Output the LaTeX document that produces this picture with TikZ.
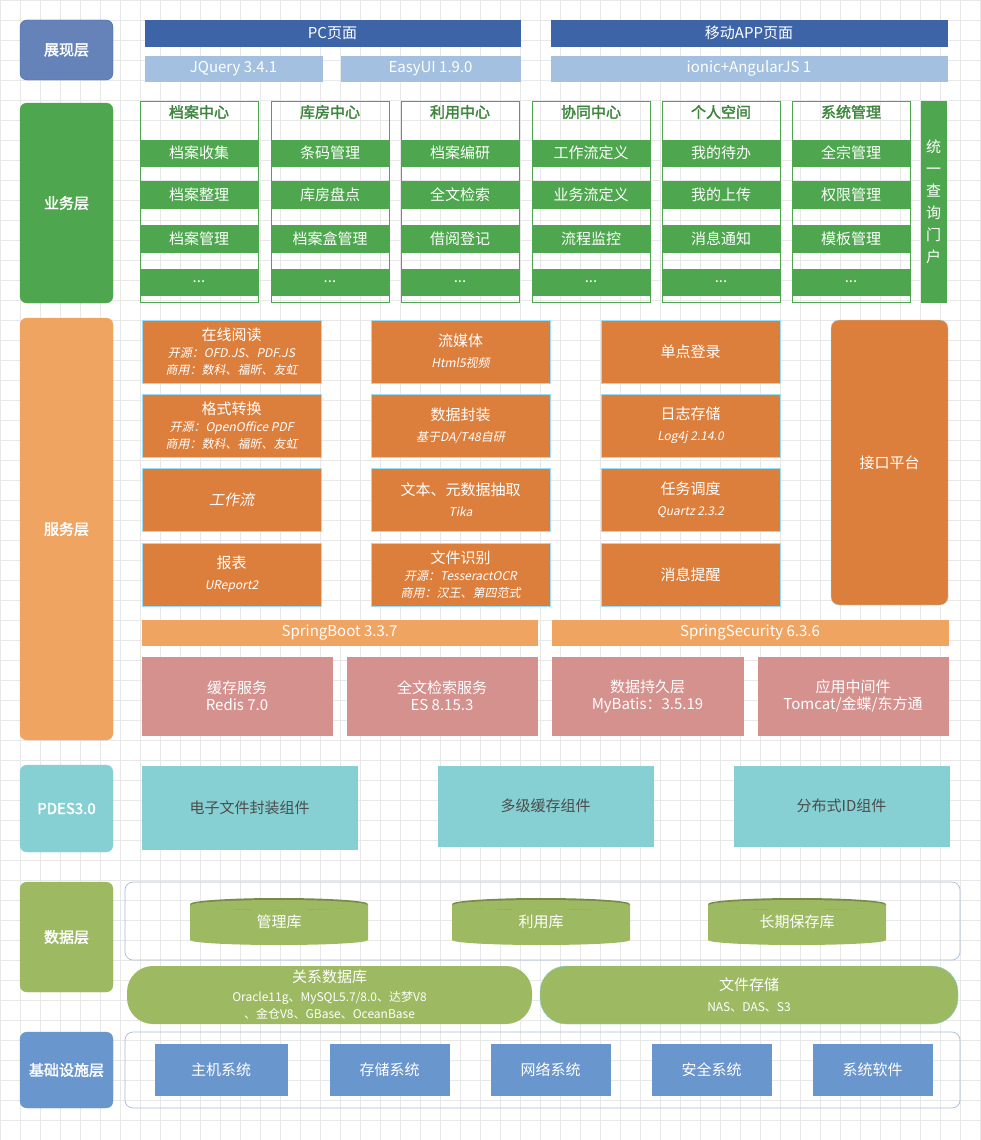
\documentclass[tikz,border=0pt]{standalone}
\usepackage{fontspec}
\setmainfont{Noto Sans CJK SC}[AutoFakeSlant=0.2,AutoFakeBold=2]
\begin{document}
\begin{tikzpicture}[x=1pt,y=-1pt,
  base/.style={inner sep=0pt,outer sep=0pt,align=center,text=white,font=\fontsize{15}{17}\selectfont},
  layer/.style={base,rounded corners=7,font=\fontsize{15}{17}\selectfont\bfseries},
  pc/.style={base,fill=blue1,draw=blue1},
  lib/.style={base,fill=blue2,draw=blue2},
  col/.style={base,draw=green1,line width=0.8pt},
  biz/.style={base,fill=green1,draw=green1},
  svc/.style={base,fill=orange1,draw=cyan!40},
  bar/.style={base,fill=orange2,draw=orange2},
  mid/.style={base,fill=pink1,draw=pink1},
  pd/.style={base,fill=teal1,draw=teal1,text=black!70},
  infra/.style={base,fill=blue3,draw=blue3},
  brk/.style={draw=blue4,line width=0.7pt,rounded corners=8}]
\definecolor{blue1}{HTML}{3E64A8}\definecolor{blue2}{HTML}{A3C0E0}
\definecolor{green1}{HTML}{4EA64E}\definecolor{orange1}{HTML}{DD7F3C}
\definecolor{orange2}{HTML}{EFA462}\definecolor{pink1}{HTML}{D4918E}
\definecolor{teal1}{HTML}{86D0D4}\definecolor{blue3}{HTML}{6A96CE}
\definecolor{blue4}{HTML}{A8BCDC}\definecolor{lgreen}{HTML}{9DBA62}
\newcommand\bx[7]{\node[#6,minimum width={(#4-#2)*1pt},minimum height={(#5-#3)*1pt}] (#1) at ({(#2+#4)/2},{(#3+#5)/2}) {#7};}
\newcommand\sm{\fontsize{12}{17}\selectfont\itshape}
\useasboundingbox (0,0) rectangle (981,1140);
\fill[white] (0,0) rectangle (981,1140);
\foreach \k in {0,20,...,980} {\draw[black!9] (\k,0) -- (\k,1140);}
\foreach \k in {0,20,...,1140} {\draw[black!9] (0,\k) -- (981,\k);}
% layer labels
\bx{L1}{20}{20}{113}{80}{layer,fill=blue1!80,draw=blue1}{展现层}
\bx{L2}{20}{103}{113}{303}{layer,fill=green1,draw=green1}{业务层}
\bx{L3}{20}{318}{113}{740}{layer,fill=orange2,draw=orange2}{服务层}
\bx{L4}{20}{765}{113}{852}{layer,fill=teal1,draw=teal1}{PDES3.0}
\bx{L5}{20}{882}{113}{992}{layer,fill=lgreen,draw=lgreen}{数据层}
\bx{L6}{20}{1032}{113}{1108}{layer,fill=blue3,draw=blue3}{基础设施层}
% presentation
\bx{pc}{145}{20}{520}{46}{pc}{PC页面}
\bx{app}{551}{20}{947}{46}{pc}{移动APP页面}
\bx{jq}{145}{56}{322}{81}{lib}{JQuery 3.4.1}
\bx{eu}{341}{56}{520}{81}{lib}{EasyUI 1.9.0}
\bx{io}{551}{56}{947}{81}{lib}{ionic+AngularJS 1}
% business
\foreach \i/\x/\t/\a/\b/\c in {1/140/档案中心/档案收集/档案整理/档案管理,2/271/库房中心/条码管理/库房盘点/档案盒管理,3/401/利用中心/档案编研/全文检索/借阅登记,4/532/协同中心/工作流定义/业务流定义/流程监控,5/662/个人空间/我的待办/我的上传/消息通知,6/792/系统管理/全宗管理/权限管理/模板管理}{
  \bx{c\i}{\x}{101}{\x+118}{302}{col}{}
  \node[base,text=green1!80!black,font=\fontsize{15}{17}\selectfont\bfseries] (t\i) at (\x+59,112) {\t};
  \bx{a\i}{\x+13}{140}{\x+105}{166}{biz}{\a}
  \bx{b\i}{\x+13}{181}{\x+105}{208}{biz}{\b}
  \bx{d\i}{\x+13}{225}{\x+105}{252}{biz}{\c}
  \bx{e\i}{\x+13}{269}{\x+105}{295}{biz}{...}
}
\bx{portal}{921}{101}{946}{302}{biz,font=\fontsize{15}{22}\selectfont}{统\\一\\查\\询\\门\\户}
% services
\bx{s1}{142}{320}{321}{383}{svc}{在线阅读\\{\sm 开源：OFD.JS、PDF.JS}\\{\sm 商用：数科、福昕、友虹}}
\bx{s2}{142}{394}{321}{457}{svc}{格式转换\\{\sm 开源：OpenOffice PDF}\\{\sm 商用：数科、福昕、友虹}}
\bx{s3}{142}{468}{321}{531}{svc,font=\fontsize{15}{17}\selectfont\itshape}{工作流}
\bx{s4}{142}{543}{321}{606}{svc}{报表\\[4pt]{\sm UReport2}}
\bx{s5}{371}{320}{550}{383}{svc}{流媒体\\[4pt]{\sm Html5视频}}
\bx{s6}{371}{394}{550}{457}{svc}{数据封装\\[4pt]{\sm 基于DA/T48自研}}
\bx{s7}{371}{468}{550}{531}{svc}{文本、元数据抽取\\[4pt]{\sm Tika}}
\bx{s8}{371}{543}{550}{606}{svc}{文件识别\\{\sm 开源：TesseractOCR}\\{\sm 商用：汉王、第四范式}}
\bx{s9}{601}{320}{780}{383}{svc}{单点登录}
\bx{s10}{601}{394}{780}{457}{svc}{日志存储\\[4pt]{\sm Log4j 2.14.0}}
\bx{s11}{601}{468}{780}{531}{svc}{任务调度\\[4pt]{\sm Quartz 2.3.2}}
\bx{s12}{601}{543}{780}{606}{svc}{消息提醒}
\bx{api}{831}{320}{948}{605}{svc,rounded corners=8}{接口平台}
\bx{sb}{142}{620}{537}{645}{bar}{SpringBoot 3.3.7}
\bx{ss}{552}{620}{948}{645}{bar}{SpringSecurity 6.3.6}
\bx{m1}{142}{657}{332}{735}{mid}{缓存服务\\Redis 7.0}
\bx{m2}{347}{657}{537}{735}{mid}{全文检索服务\\ES 8.15.3}
\bx{m3}{552}{657}{743}{735}{mid}{数据持久层\\MyBatis：3.5.19}
\bx{m4}{758}{657}{948}{735}{mid}{应用中间件\\Tomcat/金蝶/东方通}
% PDES
\bx{p1}{142}{766}{357}{849}{pd}{电子文件封装组件}
\bx{p2}{438}{766}{653}{846}{pd}{多级缓存组件}
\bx{p3}{734}{766}{949}{846}{pd}{分布式ID组件}
% data
\bx{dbox}{125}{882}{960}{960}{brk}{}
\foreach \n/\x/\t in {g1/190/管理库,g2/452/利用库,g3/708/长期保存库}{
  \fill[lgreen] (\x,904) -- (\x,940) arc[start angle=180,end angle=0,x radius=89,y radius=5] -- (\x+178,904) -- cycle;
  \fill[lgreen!75!black] (\x+89,904) ellipse[x radius=89,y radius=6];
  \fill[lgreen] (\x+89,905) ellipse[x radius=88,y radius=5];
  \node[base] (\n) at (\x+89,922) {\t};
}
\bx{r1}{127}{966}{532}{1024}{base,fill=lgreen,rounded corners=26}{\fontsize{15}{17}\selectfont 关系数据库\\[2pt]{\fontsize{12}{20}\selectfont Oracle11g、MySQL5.7/8.0、达梦V8}\\{\fontsize{12}{15}\selectfont 、金仓V8、GBase、OceanBase}}
\bx{r2}{540}{966}{958}{1024}{base,fill=lgreen,draw=teal1,rounded corners=26}{文件存储\\[4pt]{\fontsize{12}{14}\selectfont NAS、DAS、S3}}
% infra
\bx{ibox}{125}{1032}{960}{1108}{brk}{}
\bx{i1}{155}{1044}{287}{1095}{infra}{主机系统}
\bx{i2}{330}{1044}{449}{1095}{infra}{存储系统}
\bx{i3}{491}{1044}{610}{1095}{infra}{网络系统}
\bx{i4}{652}{1044}{771}{1095}{infra}{安全系统}
\bx{i5}{813}{1044}{932}{1095}{infra}{系统软件}
\end{tikzpicture}
\end{document}
